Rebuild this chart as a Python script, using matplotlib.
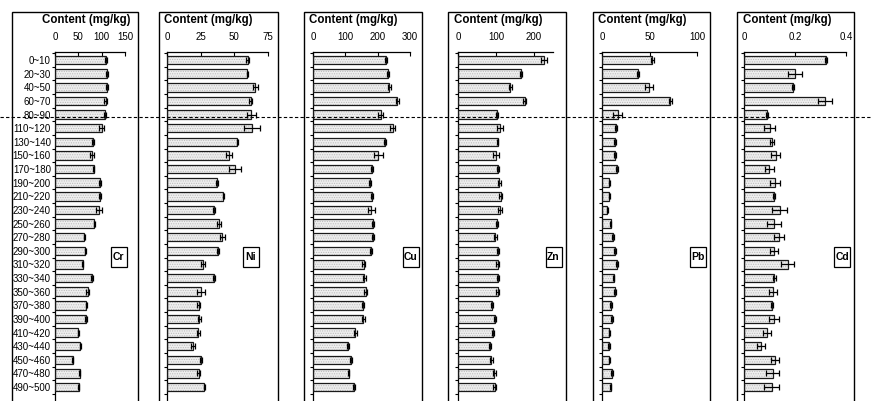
import numpy as np
import matplotlib.pyplot as plt
from matplotlib.patches import Rectangle
from matplotlib.lines import Line2D

plt.rcParams['font.family'] = ['Liberation Sans', 'DejaVu Sans']
plt.rcParams['hatch.linewidth'] = 0.5

depths = ["0~10", "20~30", "40~50", "60~70", "80~90", "110~120", "130~140",
          "150~160", "170~180", "190~200", "210~220", "230~240", "250~260",
          "270~280", "290~300", "310~320", "330~340", "350~360", "370~380",
          "390~400", "410~420", "430~440", "450~460", "470~480", "490~500"]

cr = [109, 112, 111, 109, 108, 100, 81, 79, 83, 96, 96, 94, 84, 63, 65, 59,
      79, 70, 67, 66, 50, 54, 38, 53, 51]
cr_err = [2, 2, 2, 3, 2, 5, 1.5, 5, 1.5, 1.5, 1.5, 7, 1.5, 1.5, 1.5, 1.5,
          1.5, 3, 1.5, 1.5, 1, 1.5, 1, 1.5, 1]

ni = [60, 59.7, 65.6, 62.2, 62.6, 63, 52.3, 46.2, 50.4, 37, 41.9, 35.2, 38.5,
      41.2, 37.7, 26.9, 34.8, 25.4, 23.4, 23.9, 23.2, 19.2, 25.2, 23.4, 27.8]
ni_err = [1, 0.5, 2, 1, 3.5, 6, 0.5, 2.3, 4.3, 0.8, 0.5, 0.8, 1.5, 2, 0.8,
          1.5, 0.8, 3, 1, 1, 1, 1.5, 0.8, 1, 0.5]

cu = [225, 231, 236, 261, 210, 246, 223, 202, 183, 177, 183, 180, 186, 185,
      178, 157, 159, 163, 154, 156, 131, 107, 117, 110, 127]
cu_err = [3, 3, 4, 5, 8, 8, 2, 13, 4, 3, 4, 11, 4, 4, 3, 4, 4, 4, 3, 4, 4,
          3, 4, 2, 4]

zn = [227, 166, 138, 176, 103, 111, 104, 101, 106, 109, 112, 111, 102, 98,
      105, 104, 106, 104, 89, 97, 92, 84, 88, 96, 97]
zn_err = [8, 3, 3, 4, 3, 8, 2, 8, 3, 3, 3, 6, 3, 4, 3, 4, 3, 4, 3, 3, 3, 3,
          3, 3, 4]

pb = [53, 38, 49.3, 72, 16.7, 14.4, 13.7, 13.7, 15.4, 7.7, 7.7, 5.6, 9.1, 12,
      14, 15.4, 12.3, 13.3, 9.5, 10.5, 7.7, 7.7, 7.7, 10.2, 9.1]
pb_err = [1.5, 1, 4, 1.5, 4.7, 1.2, 1, 1, 1, 0.8, 0.8, 0.8, 0.8, 1, 1, 1,
          0.8, 1, 0.8, 1, 0.8, 1, 0.8, 1, 0.8]

cd = [0.323, 0.2, 0.191, 0.318, 0.09, 0.1, 0.109, 0.125, 0.099, 0.123, 0.119,
      0.140, 0.117, 0.137, 0.118, 0.171, 0.119, 0.114, 0.109, 0.117, 0.091,
      0.068, 0.121, 0.112, 0.109]
cd_err = [0.004, 0.028, 0.004, 0.026, 0.003, 0.022, 0.008, 0.018, 0.017, 0.02,
          0.004, 0.03, 0.028, 0.018, 0.017, 0.025, 0.005, 0.016, 0.003, 0.019,
          0.016, 0.016, 0.016, 0.027, 0.029]

elements = ["Cr", "Ni", "Cu", "Zn", "Pb", "Cd"]
values = [cr, ni, cu, zn, pb, cd]
errors = [cr_err, ni_err, cu_err, zn_err, pb_err, cd_err]
xmax = [150, 75, 300, 250, 100, 0.4]
xticks = [[0, 50, 100, 150], [0, 25, 50, 75], [0, 100, 200, 300],
          [0, 100, 200], [0, 50, 100], [0, 0.2, 0.4]]
xticklabels = [["0", "50", "100", "150"], ["0", "25", "50", "75"],
               ["0", "100", "200", "300"], ["0", "100", "200"],
               ["0", "50", "100"], ["0", "0.2", "0.4"]]

# layout in pixels
W, H = 872, 401
ax_lr = [(55, 125), (167, 268), (313, 410), (458, 553), (602, 697), (744, 846)]
box_lr = [(12, 138), (159, 278), (304, 422), (448, 566), (593, 710), (737, 854)]
title_x = [42, 164, 309, 454, 598, 743]
tag_x = [118.5, 251, 410.5, 553.5, 697.5, 842]
ax_top, ax_bot = 52, 405
pitch = 13.625
y_top = -0.59
y_bot = y_top + (ax_bot - ax_top) / pitch

fig = plt.figure(figsize=(W / 100, H / 100), dpi=100)


def fx(px):
    return px / W


def fy(py):
    return 1 - py / H


y = np.arange(len(depths))

for i in range(6):
    l, r = ax_lr[i]
    ax = fig.add_axes([fx(l), fy(ax_bot), fx(r - l), (ax_bot - ax_top) / H])

    ax.barh(y, values[i], height=0.62, color='#eeeeee', edgecolor='#bbbbbb',
            hatch='.......', lw=0, zorder=2)
    ax.barh(y, values[i], height=0.62, fill=False, edgecolor='#1a1a1a',
            lw=0.9, zorder=3)
    ax.errorbar(values[i], y, xerr=errors[i], fmt='none', ecolor='black',
                elinewidth=0.9, capsize=2.5, capthick=0.9, zorder=4)

    ax.set_xlim(0, xmax[i])
    ax.set_ylim(y_bot, y_top)

    ax.xaxis.tick_top()
    ax.set_xticks(xticks[i], xticklabels[i])
    ax.tick_params(axis='x', direction='in', length=3, width=0.8, pad=7,
                   labelsize=7)

    ax.set_yticks(y)
    if i == 0:
        ax.set_yticklabels(depths)
    else:
        ax.set_yticklabels([])
    ax.set_yticks(np.arange(-0.5, len(depths)), minor=True)
    ax.tick_params(axis='y', which='major', length=0, pad=3, labelsize=7)
    ax.tick_params(axis='y', which='minor', direction='out', length=2.5,
                   width=0.8)

    for side in ['bottom', 'right']:
        ax.spines[side].set_visible(False)
    ax.spines['top'].set_linewidth(0.9)
    ax.spines['left'].set_linewidth(0.9)

    # outer frame of the panel
    bl, br = box_lr[i]
    fig.add_artist(Rectangle((fx(bl), fy(420)), fx(br - bl), (420 - 12) / H,
                             transform=fig.transFigure, fill=False,
                             ec='black', lw=1.0))
    fig.text(fx(title_x[i]), fy(20), "Content (mg/kg)", fontsize=8.3,
             fontweight='bold', ha='left', va='center')

    # element tag
    tx = tag_x[i]
    fig.add_artist(Rectangle((fx(tx - 8), fy(267)), fx(16), 20 / H,
                             transform=fig.transFigure, fc='white',
                             ec='black', lw=0.9))
    fig.text(fx(tx), fy(257), elements[i], fontsize=7.5, fontweight='bold',
             ha='center', va='center')

# boundary between the upper and lower layers
fig.add_artist(Line2D([0, 1], [fy(117), fy(117)], transform=fig.transFigure,
                      color='black', lw=0.8, ls=(0, (3, 2)), zorder=10))

fig.savefig("out.png", dpi=100)
